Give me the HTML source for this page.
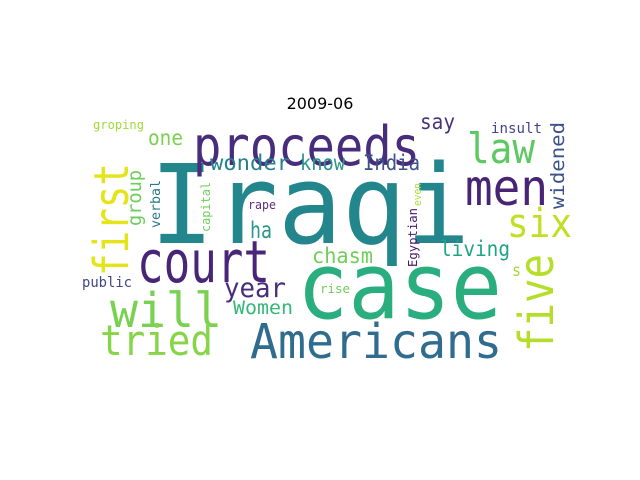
<!DOCTYPE html>
<html><head><meta charset="utf-8"><style>
html,body{margin:0;padding:0;background:#fff;}
svg{display:block}
text{font-family:"DejaVu Sans Mono","Liberation Mono",monospace;}
</style></head><body>
<svg width="640" height="480" viewBox="0 0 640 480">
<rect width="640" height="480" fill="#fff"/>
<text x="320" y="109" text-anchor="middle" style="font-family:'DejaVu Sans','Liberation Sans',sans-serif" font-size="16" fill="#000">2009-06</text>
<g>
<text x="150" y="243" font-size="110" textLength="320" lengthAdjust="spacingAndGlyphs" fill="#23868d">Iraqi</text>
<text x="297" y="318" font-size="92" textLength="205" lengthAdjust="spacingAndGlyphs" fill="#2aae80">case</text>
<text x="193" y="165" font-size="54" textLength="227" lengthAdjust="spacingAndGlyphs" fill="#472d7b">proceeds</text>
<text x="137" y="282" font-size="58" textLength="133" lengthAdjust="spacingAndGlyphs" fill="#482576">court</text>
<text x="110" y="327" font-size="48" textLength="112" lengthAdjust="spacingAndGlyphs" fill="#7ad151">will</text>
<text x="100" y="355" font-size="42" textLength="113" lengthAdjust="spacingAndGlyphs" fill="#86d549">tried</text>
<text x="250" y="358" font-size="48" textLength="252" lengthAdjust="spacingAndGlyphs" fill="#2f6c8e">Americans</text>
<text transform="translate(128,276) rotate(-90)" font-size="48" textLength="113" lengthAdjust="spacingAndGlyphs" fill="#e5e419">first</text>
<text transform="translate(553,352) rotate(-90)" font-size="48" textLength="98" lengthAdjust="spacingAndGlyphs" fill="#b5de2b">five</text>
<text x="507" y="237" font-size="40" textLength="65" lengthAdjust="spacingAndGlyphs" fill="#c2df23">six</text>
<text x="465" y="205" font-size="50" textLength="83" lengthAdjust="spacingAndGlyphs" fill="#482475">men</text>
<text x="467" y="163" font-size="42" textLength="68" lengthAdjust="spacingAndGlyphs" fill="#5ec962">law</text>
<text x="420" y="129" font-size="21" textLength="35" lengthAdjust="spacingAndGlyphs" fill="#46337e">say</text>
<text x="491" y="133" font-size="14" textLength="51" lengthAdjust="spacingAndGlyphs" fill="#414487">insult</text>
<text transform="translate(564,209) rotate(-90)" font-size="19" textLength="87" lengthAdjust="spacingAndGlyphs" fill="#3b528b">widened</text>
<text x="363" y="170" font-size="21" textLength="57" lengthAdjust="spacingAndGlyphs" fill="#3b528b">India</text>
<text x="210" y="170" font-size="21" textLength="80" lengthAdjust="spacingAndGlyphs" fill="#26818e">wonder</text>
<text x="300" y="170" font-size="21" textLength="45" lengthAdjust="spacingAndGlyphs" fill="#2a968c">know</text>
<text x="148" y="145" font-size="21" textLength="35" lengthAdjust="spacingAndGlyphs" fill="#7ad151">one</text>
<text x="93" y="129" font-size="12" textLength="51" lengthAdjust="spacingAndGlyphs" fill="#a0da39">groping</text>
<text transform="translate(141,226) rotate(-90)" font-size="19" textLength="56" lengthAdjust="spacingAndGlyphs" fill="#6ccd5a">group</text>
<text transform="translate(160,228) rotate(-90)" font-size="13" textLength="48" lengthAdjust="spacingAndGlyphs" fill="#2a788e">verbal</text>
<text transform="translate(210,232) rotate(-90)" font-size="12" textLength="50" lengthAdjust="spacingAndGlyphs" fill="#6ece58">capital</text>
<text x="248" y="209" font-size="12" textLength="28" lengthAdjust="spacingAndGlyphs" fill="#5a2d82">rape</text>
<text x="250" y="238" font-size="23" textLength="22" lengthAdjust="spacingAndGlyphs" fill="#2a968c">ha</text>
<text x="224" y="297" font-size="27" textLength="62" lengthAdjust="spacingAndGlyphs" fill="#472d7b">year</text>
<text x="233" y="314" font-size="19" textLength="60" lengthAdjust="spacingAndGlyphs" fill="#35b779">Women</text>
<text x="312" y="263" font-size="21" textLength="61" lengthAdjust="spacingAndGlyphs" fill="#6ece58">chasm</text>
<text x="440" y="256" font-size="21" textLength="70" lengthAdjust="spacingAndGlyphs" fill="#20a386">living</text>
<text x="512" y="276" font-size="17" textLength="9" lengthAdjust="spacingAndGlyphs" fill="#9fda3a">s</text>
<text transform="translate(417,267) rotate(-90)" font-size="12" textLength="59" lengthAdjust="spacingAndGlyphs" fill="#481a6c">Egyptian</text>
<text transform="translate(421,206) rotate(-90)" font-size="11" textLength="23" lengthAdjust="spacingAndGlyphs" fill="#a8db34">even</text>
<text x="320" y="293" font-size="12" textLength="30" lengthAdjust="spacingAndGlyphs" fill="#6ece58">rise</text>
<text x="82" y="287" font-size="14" textLength="50" lengthAdjust="spacingAndGlyphs" fill="#404688">public</text>
</g>
</svg>
</body></html>
